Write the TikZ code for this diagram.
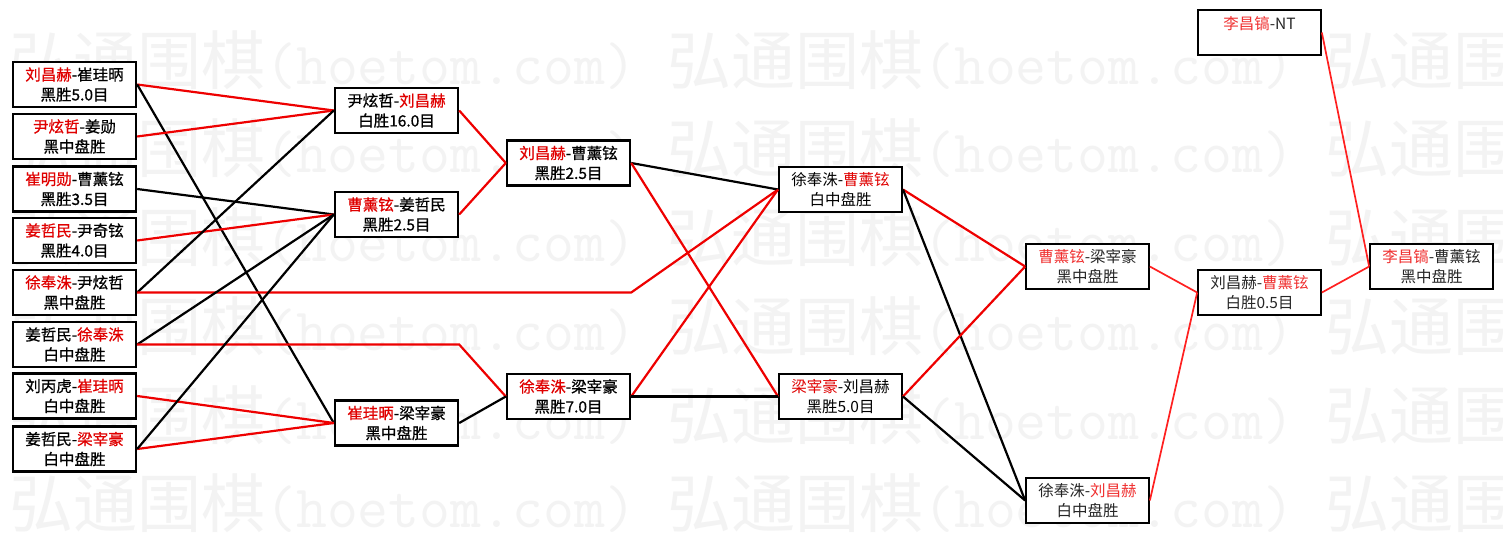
\documentclass[tikz,border=0pt]{standalone}
\usepackage{fontspec}
\setmainfont{Noto Sans CJK SC}
\newfontfamily\boldcjk{Noto Sans CJK SC}[FakeBold=0.7]
\definecolor{wr}{HTML}{EE0000}
\definecolor{wtext}{HTML}{E00000}
\definecolor{lred}{HTML}{FF2020}
\definecolor{ltext}{HTML}{F03030}
\definecolor{wmark}{HTML}{F3F3F3}
\newcommand\redname[1]{\textcolor{wtext}{#1}}
\begin{document}
\begin{tikzpicture}[x=1pt,y=-1pt,
  box/.style={draw, fill=white, rectangle, minimum width=123pt, minimum height=45pt,
    inner sep=0pt, align=center, font=\boldcjk\fontsize{15.5}{20}\selectfont, line width=2.4pt,
    execute at begin node={\rule{0pt}{21pt}}},
  mbox/.style={box, line width=2pt, font=\fontsize{15.5}{20}\selectfont},
  lbox/.style={box, line width=1.7pt, font=\fontsize{15.5}{20}\selectfont, text=black!85},
  win/.style={draw=wr, line width=2.2pt},
  lose/.style={draw=black, line width=2.2pt},
  lwin/.style={draw=lred, line width=1.7pt},
  wmtext/.style={anchor=west, inner sep=0pt, text=wmark}]
\useasboundingbox (0,0) rectangle (1503,533);
\fill[white] (0,0) rectangle (1503,533);
% watermark
\begin{scope}
\clip (0,0) rectangle (1503,533);
\foreach \r in {0,...,5}{
  \foreach \c in {0,1,2}{
    \node[wmtext] (wm\r\c) at ({9+658*\c},{60+88.7*\r})
      {{\fontsize{64}{64}\selectfont 弘通围棋}{\ttfamily\fontsize{60}{60}\selectfont(hoetom.com)}};
  }
}
\end{scope}
% column 1
\node[box] (a1) at (74.5,84.5) {\redname{刘昌赫}-崔珪昞\\黑胜5.0目};
\node[box] (a2) at (74.5,136.5) {\redname{尹炫哲}-姜勋\\黑中盘胜};
\node[box] (a3) at (74.5,189) {\redname{崔明勋}-曹薰铉\\黑胜3.5目};
\node[box] (a4) at (74.5,240.5) {\redname{姜哲民}-尹奇铉\\黑胜4.0目};
\node[box] (a5) at (74.5,292.5) {\redname{徐奉洙}-尹炫哲\\黑中盘胜};
\node[box] (a6) at (74.5,344.5) {姜哲民-\redname{徐奉洙}\\白中盘胜};
\node[box] (a7) at (74.5,396) {刘丙虎-\redname{崔珪昞}\\白中盘胜};
\node[box] (a8) at (74.5,449) {姜哲民-\redname{梁宰豪}\\白中盘胜};
% column 2
\node[box] (b1) at (396.5,110.5) {尹炫哲-\redname{刘昌赫}\\白胜16.0目};
\node[box] (b2) at (396.5,214.5) {\redname{曹薰铉}-姜哲民\\黑胜2.5目};
\node[box] (b3) at (396.5,423) {\redname{崔珪昞}-梁宰豪\\黑中盘胜};
% column 3
\node[box] (c1) at (568.5,163) {\redname{刘昌赫}-曹薰铉\\黑胜2.5目};
\node[box] (c2) at (568.5,396.5) {\redname{徐奉洙}-梁宰豪\\黑胜7.0目};
% column 4
\node[mbox] (d1) at (840.5,189.5) {徐奉洙-\redname{曹薰铉}\\白中盘胜};
\node[mbox] (d2) at (840.5,396.5) {\redname{梁宰豪}-刘昌赫\\黑胜5.0目};
% column 5
\node[lbox] (e1) at (1087.5,266.5) {\textcolor{ltext}{曹薰铉}-梁宰豪\\黑中盘胜};
\node[lbox] (e2) at (1087.5,500.5) {徐奉洙-\textcolor{ltext}{刘昌赫}\\白中盘胜};
% column 6
\node[lbox] (f1) at (1259.5,292.5) {刘昌赫-\textcolor{ltext}{曹薰铉}\\白胜0.5目};
\node[lbox] (nt) at (1259.5,32.5) {\textcolor{ltext}{李昌镐}-NT\\~};
% column 7
\node[lbox] (g1) at (1431.5,266.5) {\textcolor{ltext}{李昌镐}-曹薰铉\\黑中盘胜};
% connectors col1 -> col2
\draw[win] (a1.east) -- (b1.west);
\draw[lose] (a1.east) -- (b3.west);
\draw[win] (a2.east) -- (b1.west);
\draw[lose] (a3.east) -- (b2.west);
\draw[win] (a4.east) -- (b2.west);
\draw[lose] (a5.east) -- (b1.west);
\draw[win] (a5.east) -- (a5.east -| c1.east) -- (d1.west);
\draw[lose] (a6.east) -- (b2.west);
\draw[win] (a6.east) -- (a6.east -| b1.east) -- (c2.west);
\draw[win] (a7.east) -- (b3.west);
\draw[win] (a8.east) -- (b3.west);
\draw[lose] (a8.east) -- (b2.west);
% col2 -> col3
\draw[win] (b1.east) -- (c1.west);
\draw[win] (b2.east) -- (c1.west);
\draw[lose] (b3.east) -- (c2.west);
% col3 -> col4
\draw[lose] (c1.east) -- (d1.west);
\draw[win] (c1.east) -- (d2.west);
\draw[win] (c2.east) -- (d1.west);
\draw[lose] (c2.east) -- (d2.west);
% col4 -> col5
\draw[win] (d1.east) -- (e1.west);
\draw[lose] (d1.east) -- (e2.west);
\draw[win] (d2.east) -- (e1.west);
\draw[lose] (d2.east) -- (e2.west);
% col5 -> col6 -> col7
\draw[lwin] (e1.east) -- (f1.west);
\draw[lwin] (e2.east) -- (f1.west);
\draw[lwin] (f1.east) -- (g1.west);
\draw[lwin] (nt.east) -- (g1.west);
\end{tikzpicture}
\end{document}
